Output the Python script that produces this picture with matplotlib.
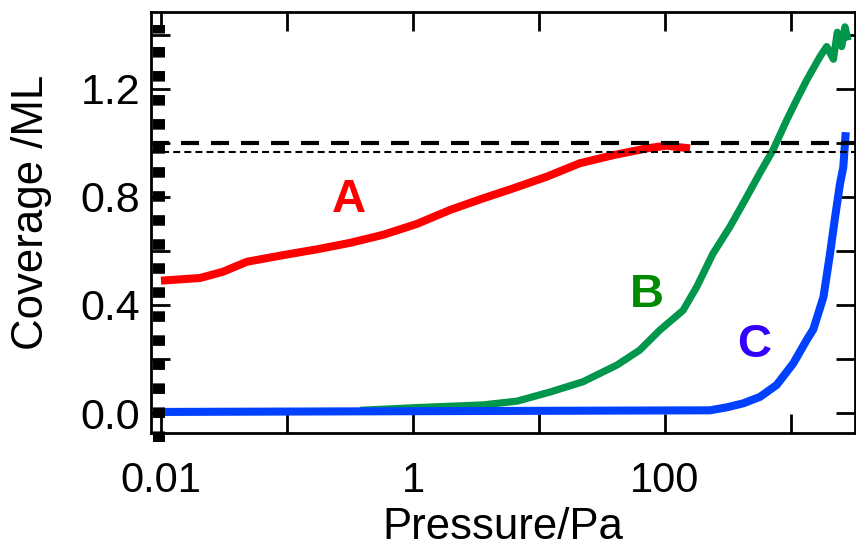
import numpy as np
import matplotlib
matplotlib.use("Agg")
import matplotlib.pyplot as plt
from matplotlib.ticker import LogLocator, FixedLocator, MultipleLocator, NullFormatter

plt.rcParams['font.family'] = ['Liberation Sans', 'DejaVu Sans']
plt.rcParams['lines.scale_dashes'] = False

# Curve A (red)
p_a = [0.01, 0.0204, 0.031, 0.048, 0.094, 0.172, 0.316, 0.58, 1.07, 1.97, 3.5,
       6.25, 11.5, 21.1, 38.9, 71.6, 103, 131, 158]
cov_a = [0.49, 0.50, 0.523, 0.56, 0.585, 0.606, 0.63, 0.66, 0.70, 0.752, 0.793,
         0.832, 0.875, 0.925, 0.955, 0.98, 0.99, 0.984, 0.98]

# Curve B (green)
p_b = [0.38, 1.07, 3.6, 6.7, 12.3, 22.4, 41.7, 63, 91, 139, 179, 240, 328, 445,
       568, 720, 925, 1110, 1333, 1700, 1920, 2170, 2330, 2525, 2680, 2840]
cov_b = [0.01, 0.02, 0.03, 0.044, 0.078, 0.116, 0.178, 0.233, 0.307, 0.38, 0.468, 0.59, 0.69, 0.80,
         0.89, 0.974, 1.085, 1.16, 1.233, 1.32, 1.357, 1.31, 1.41, 1.357, 1.43, 1.38]

# Curve C (blue)
p_c = [0.01, 228, 309, 419, 568, 770, 1043, 1330, 1504, 1810, 2040, 2240, 2450, 2600, 2720]
cov_c = [0.004, 0.01, 0.021, 0.036, 0.06, 0.104, 0.184, 0.27, 0.31, 0.43, 0.59, 0.727, 0.85, 0.91, 1.04]

ref_full = 1.0
ref_sat = 0.967

labels = ['A', 'B', 'C']
label_pos = [(0.31, 0.79), (72, 0.437), (508, 0.252)]
label_colors = ['#ff0000', '#008a00', '#3300ff']

xlim = (0.00833, 3220)
ylim = (-0.074, 1.485)

fig = plt.figure(figsize=(8.56, 5.52), dpi=100)
ax = fig.add_axes([151 / 856, 1 - 433 / 552, 704 / 856, 421 / 552])

ax.plot(p_a, cov_a, color='#ff0000', lw=5.8, solid_capstyle='butt')
ax.plot(p_b, cov_b, color='#00964b', lw=5.2, solid_capstyle='butt')
ax.plot(p_c, cov_c, color='#0040ff', lw=5.8, solid_capstyle='butt')

ax.axhline(ref_full, color='black', lw=3, linestyle=(0, (13, 8.6)))
ax.axhline(ref_sat, color='black', lw=1.5, linestyle=(0, (5, 3)))

# thick block pattern along the left axis
ax.plot([0.0114, 0.0114], [-0.0214, 0.969], transform=ax.transAxes, color='black',
        lw=8.6, linestyle=(0, (7.6, 9.7)), clip_on=False)

for lab, (px, py), c in zip(labels, label_pos, label_colors):
    ax.text(px, py, lab, color=c, fontsize=34, fontweight='bold', ha='center', va='center')

ax.set_xscale('log')
ax.set_xlim(*xlim)
ax.set_ylim(*ylim)

ax.xaxis.set_major_locator(FixedLocator([0.01, 0.1, 1, 10, 100, 1000]))
ax.set_xticklabels(['0.01', '', '1', '', '100', ''])
ax.xaxis.set_minor_locator(LogLocator(base=10, subs=np.arange(2, 10)))
ax.xaxis.set_minor_formatter(NullFormatter())

ax.yaxis.set_major_locator(FixedLocator([0.0, 0.4, 0.8, 1.2]))
ax.set_yticklabels(['0.0', '0.4', '0.8', '1.2'])
ax.yaxis.set_minor_locator(MultipleLocator(0.2))

ax.tick_params(axis='both', which='both', direction='in', top=True, right=True, width=2)
ax.tick_params(axis='x', which='major', length=14, pad=20, labelsize=30)
ax.tick_params(axis='x', which='minor', length=7)
ax.tick_params(axis='y', which='both', length=14, pad=8, labelsize=31)

for s in ax.spines.values():
    s.set_linewidth(2)

ax.set_xlabel('Pressure/Pa', fontsize=31.5)
ax.set_ylabel('Coverage /ML', fontsize=31.5)
ax.xaxis.set_label_coords(0.5, -0.175)
ax.yaxis.set_label_coords(-0.14, 0.525)

fig.savefig('out.png', dpi=100)
